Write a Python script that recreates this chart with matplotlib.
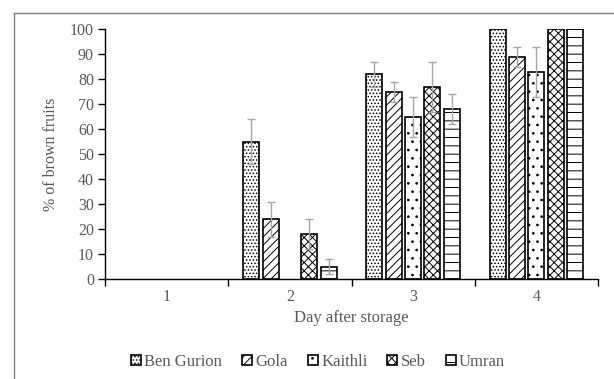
import numpy as np
import matplotlib
matplotlib.use('Agg')
import matplotlib.pyplot as plt
from matplotlib.lines import Line2D

# Datos
dias = ['1', '2', '3', '4']
variedades = ['Ben Gurion', 'Gola', 'Kaithli', 'Seb', 'Umran']
valores = {
    'Ben Gurion': [0, 55, 82, 100],
    'Gola':       [0, 24, 75, 89],
    'Kaithli':    [0, 0, 65, 83],
    'Seb':        [0, 18, 77, 100],
    'Umran':      [0, 5, 68, 100],
}
errores = {
    'Ben Gurion': [0, 9, 5, 0],
    'Gola':       [0, 7, 4, 4],
    'Kaithli':    [0, 0, 8, 10],
    'Seb':        [0, 6, 10, 0],
    'Umran':      [0, 3, 6, 0],
}
tramas = ['.....', '////', '..', 'xxxx', '--']

plt.rcParams['font.family'] = ['Liberation Serif', 'DejaVu Serif']
plt.rcParams['hatch.linewidth'] = 0.7
gris = '#595959'

fig = plt.figure(figsize=(6.14, 3.79), dpi=100)
ax = fig.add_axes([105 / 614, 1 - 279 / 379, 493 / 614, 250 / 379])

x = np.arange(len(dias))
paso = 0.157
ancho = 0.13
for i, v in enumerate(variedades):
    pos = x + (i - 2) * paso
    alto = np.array(valores[v], dtype=float)
    alto[alto == 0] = np.nan  # las barras en cero no se dibujan
    ax.bar(pos, alto, ancho, color='white', edgecolor='black',
           linewidth=1.2, hatch=tramas[i], label=v, zorder=2)
    err = np.array(errores[v])
    mask = err > 0
    ax.errorbar(pos[mask], alto[mask], yerr=err[mask],
                fmt='none', ecolor='#a6a6a6', elinewidth=1.0, capsize=3,
                capthick=1.0, zorder=3)

ax.set_xlim(-0.5, 3.5)
ax.set_ylim(0, 100)
ax.set_yticks(range(0, 101, 10))
ax.set_xticks([-0.5, 0.5, 1.5, 2.5, 3.5])
ax.set_xticklabels([])
ax.set_xticks(x, minor=True)
ax.set_xticklabels(dias, minor=True)
ax.tick_params(axis='x', which='major', length=5, color='black', width=1)
ax.tick_params(axis='x', which='minor', length=0, pad=7, labelsize=11.5, labelcolor=gris)
ax.tick_params(axis='y', length=5, color='black', width=1, pad=3,
               labelsize=11.5, labelcolor=gris)
for s in ['top', 'right']:
    ax.spines[s].set_visible(False)
for s in ['left', 'bottom']:
    ax.spines[s].set_color('black')
    ax.spines[s].set_linewidth(1.0)

ax.set_ylabel('% of brown fruits', color=gris, fontsize=11.5, labelpad=8)
ax.set_xlabel('Day after storage', color=gris, fontsize=12, labelpad=4)

fig.legend(loc='center', bbox_to_anchor=(318 / 614, 1 - 362 / 379), ncol=5,
           frameon=False, fontsize=12, handlelength=0.6, handleheight=0.6,
           handletextpad=0.2, columnspacing=1.2, labelcolor=gris)

# Marco parcial del gráfico
fig.add_artist(Line2D([14 / 614, 1], [1 - 13 / 379, 1 - 13 / 379],
                      transform=fig.transFigure, color='#808080', lw=1))
fig.add_artist(Line2D([14 / 614, 14 / 614], [0, 1 - 13 / 379],
                      transform=fig.transFigure, color='#808080', lw=1))

fig.savefig('out.png', dpi=100)
